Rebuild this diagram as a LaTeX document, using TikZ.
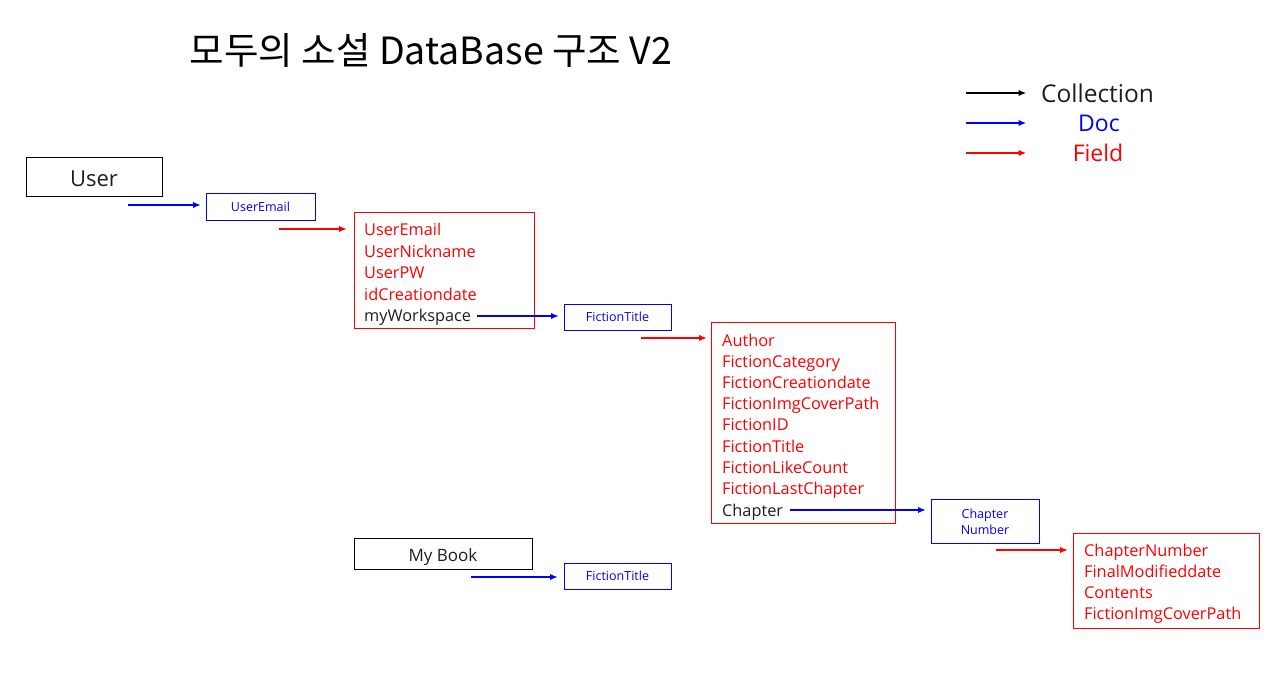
\documentclass[tikz,border=0pt]{standalone}
\usepackage{fontspec}
\setmainfont{Open Sans}
\newfontfamily\krfont{Noto Sans CJK KR}
\usetikzlibrary{arrows.meta}
\definecolor{dkgray}{RGB}{30,30,30}
\begin{document}
\begin{tikzpicture}[x=1pt,y=-1pt,
  box/.style={draw, line width=1pt, inner sep=0pt},
  blk/.style={box, draw=black, text=dkgray},
  docbox/.style={box, draw=blue, text=blue, font=\fontsize{12.5}{14}\selectfont, align=center},
  fldbox/.style={box, draw=red},
  fld/.style={anchor=west, inner sep=0pt, text height=11.5pt, text depth=3.5pt, text=red, font=\fontsize{16.3}{16}\selectfont},
  fldk/.style={fld, text=dkgray},
  arr/.style={-{Latex[length=7.5pt,width=6.5pt]}, line width=1.1pt},
  legtext/.style={inner sep=0pt, text height=16pt, text depth=5pt, font=\fontsize{23}{23}\selectfont}
]
\useasboundingbox (0,0) rectangle (1270,682);

% title
\node[inner sep=0pt, font=\krfont\fontsize{37.5}{37.5}\selectfont] (title) at (431,50) {모두의 소설 DataBase 구조 V2};

% legend
\coordinate (l1a) at (966,93);  \coordinate (l1b) at (1026,93);
\coordinate (l2a) at (966,123); \coordinate (l2b) at (1026,123);
\coordinate (l3a) at (966,153); \coordinate (l3b) at (1026,153);
\draw[arr, black] (l1a) -- (l1b);
\draw[arr, blue] (l2a) -- (l2b);
\draw[arr, red] (l3a) -- (l3b);
\node[legtext, text=dkgray, font=\fontsize{24.5}{24}\selectfont] (lcol) at (1097.5,97) {Collection};
\node[legtext, text=blue] (ldoc) at (1099,126.5) {Doc};
\node[legtext, text=red] (lfld) at (1098,156.5) {Field};

% User collection
\node[blk, minimum width=136, minimum height=39, text height=19.5pt, text depth=0.5pt, font=\fontsize{22}{22}\selectfont] (user) at (94,177.5) {User};
\node[docbox, minimum width=109, minimum height=26] (ue) at (260.5,207) {UserEmail};
\coordinate (c1) at (128,205);
\draw[arr, blue, shorten >=5] (c1) -- (c1 -| ue.west);

% user fields
\node[fldbox, minimum width=180, minimum height=115] (f1) at (444,270.5) {};
\node[fld] (f1a) at (364,232) {UserEmail};
\node[fld] (f1b) at (364,253) {UserNickname};
\node[fld] (f1c) at (364,274) {UserPW};
\node[fld] (f1d) at (364,296) {idCreationdate};
\node[fldk] (ws) at (364,317) {myWorkspace};
\coordinate (c2) at (279,229);
\draw[arr, red, shorten >=7] (c2) -- (c2 -| f1.west);

% fiction title doc
\node[docbox, minimum width=107, minimum height=26] (ft1) at (617.5,317) {FictionTitle};
\draw[arr, blue, shorten <=6, shorten >=5] ([yshift=1pt]ws.east) -- ([yshift=1pt]ws.east -| ft1.west);

% fiction fields
\node[fldbox, minimum width=184, minimum height=201] (f2) at (803,422.5) {};
\node[fld] (f2a) at (722,342) {Author};
\node[fld] (f2b) at (722,363) {FictionCategory};
\node[fld] (f2c) at (722,384) {FictionCreationdate};
\node[fld] (f2d) at (722,405) {FictionImgCoverPath};
\node[fld] (f2e) at (722,426) {FictionID};
\node[fld] (f2f) at (722,448) {FictionTitle};
\node[fld] (f2g) at (722,469) {FictionLikeCount};
\node[fld] (f2h) at (722,490) {FictionLastChapter};
\node[fldk] (ch) at (722,512) {Chapter};
\coordinate (c3) at (641,338);
\draw[arr, red, shorten >=4] (c3) -- (c3 -| f2.west);

% chapter number doc
\node[docbox, minimum width=108, minimum height=44, font=\fontsize{12.5}{16}\selectfont] (cn) at (985,521) {\raisebox{-5pt}[0pt][0pt]{\begin{tabular}{@{}c@{}}Chapter\\Number\end{tabular}}};
\draw[arr, blue, shorten <=7, shorten >=5] ([yshift=2pt]ch.east) -- ([yshift=2pt]ch.east -| cn.west);

% chapter fields
\node[fldbox, minimum width=186, minimum height=95] (f3) at (1166,580.5) {};
\node[fld] (f3a) at (1084,552) {ChapterNumber};
\node[fld] (f3b) at (1084,573) {FinalModifieddate};
\node[fld] (f3c) at (1084,594) {Contents};
\node[fld] (f3d) at (1084,615) {FictionImgCoverPath};
\coordinate (c4) at (996,550);
\draw[arr, red, shorten >=5] (c4) -- (c4 -| f3.west);

% My Book collection
\node[blk, minimum width=178, minimum height=31, text height=16pt, text depth=0pt, font=\fontsize{17}{17}\selectfont] (mb) at (443,553.5) {My Book};
\node[docbox, minimum width=107, minimum height=26] (ft2) at (617.5,576) {FictionTitle};
\coordinate (c5) at (471,577);
\draw[arr, blue, shorten >=6] (c5) -- (c5 -| ft2.west);
\end{tikzpicture}
\end{document}
